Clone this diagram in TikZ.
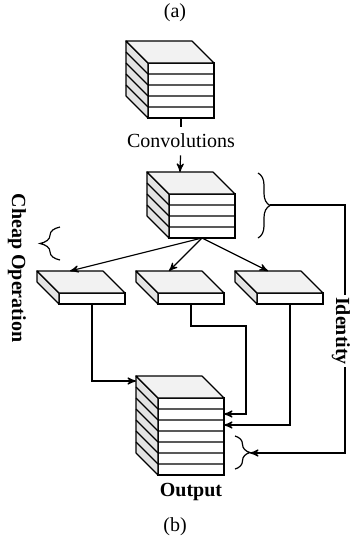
\documentclass[tikz,border=0pt]{standalone}
\usepackage{fontspec}
\setmainfont{Liberation Serif}
\usetikzlibrary{arrows,decorations.pathreplacing}

% one block of feature maps: front face node, side and top faces
\newcommand{\slabstack}[4]{%
  \node[front face, minimum height=#4*5.5pt] (#1) at (#2,#3) {};
  \draw[side face] (#1.north west) -- ++(-22,-22) -- ++(0,#4*11) -- (#1.south west) -- cycle;
  \draw[top face] (#1.north west) -- ++(-22,-22) -- ++(66,0) -- (#1.north east) -- cycle;
  \ifnum#4>1\relax
    \foreach \k in {2,...,#4}{
      \pgfmathsetmacro\dy{(\k-1)*11}
      \draw ([shift={(0,\dy)}]#1.north west) -- ++(-22,-22)
            ([shift={(0,\dy)}]#1.north west) -- ([shift={(0,\dy)}]#1.north east);
    }
  \fi
  \coordinate (#1-back) at ([shift={(-22,-22)}]#1.north);
}

\begin{document}
\begin{tikzpicture}[x=0.5pt,y=-0.5pt,>=stealth',line width=0.6pt]
	\tikzstyle{front face} = [draw,fill=white,anchor=north west,inner sep=0pt,outer sep=0pt,minimum width=33pt];
	\tikzstyle{side face} = [fill=gray!22,line join=round];
	\tikzstyle{top face} = [fill=gray!10,line join=round];
	\tikzstyle{txt} = [font=\fontsize{10}{12}\selectfont];
	\tikzstyle{btxt} = [font=\fontsize{10}{12}\selectfont\bfseries];
	\useasboundingbox (0,0) rectangle (349,547);

	\node[txt] (capa) at (175,13) {(a)};
	\node[txt] (capb) at (175,527) {(b)};

	\slabstack{conv}{148}{63}{5}
	\slabstack{feat}{169}{194}{4}
	\slabstack{cheapa}{59}{293}{1}
	\slabstack{cheapb}{158}{293}{1}
	\slabstack{cheapc}{257}{293}{1}
	\slabstack{out}{158}{398}{7}

	\node[txt] (convtxt) at (181,141) {Convolutions};
	\draw (conv.south) -- (convtxt);
	\draw[->] (convtxt) -- (feat-back);

	\draw[->] (feat.south) -- (cheapa-back);
	\draw[->] (feat.south) -- (cheapb-back);
	\draw[->] (feat.south) -- (cheapc-back);

	\coordinate (outa) at ([shift={(-22,-17)}]out.north west);
	\coordinate (outb) at ([shift={(0,16)}]out.north east);
	\coordinate (outc) at ([shift={(0,27)}]out.north east);
	\coordinate (bendb) at (246,326);
	\draw[->] (cheapa.south) |- (outa);
	\draw[->] (cheapb.south) |- (bendb) |- (outb);
	\draw[->] (cheapc.south) |- (outc);

	% braces and the identity branch
	\draw[decorate,decoration={brace,amplitude=6pt}] (258,173) -- (258,238);
	\draw[decorate,decoration={brace,amplitude=7.5pt}] (235,436) -- (235,469);
	\draw[decorate,decoration={brace,amplitude=10pt}] (60,260) -- (60,227);
	\coordinate (idtip) at (270,205);
	\coordinate (idturn) at (345,453);
	\coordinate (outtip) at (250,453);
	\draw[->] (idtip) -| (idturn) -- (outtip);
	\node[btxt,fill=white,inner sep=1pt,rotate=-90] (idtxt) at (341,331) {Identity};
	\node[btxt,rotate=-90] (cheaptxt) at (17,268) {Cheap Operation};

	\node[btxt] (outtxt) at (191,492) {Output};
\end{tikzpicture}
\end{document}
